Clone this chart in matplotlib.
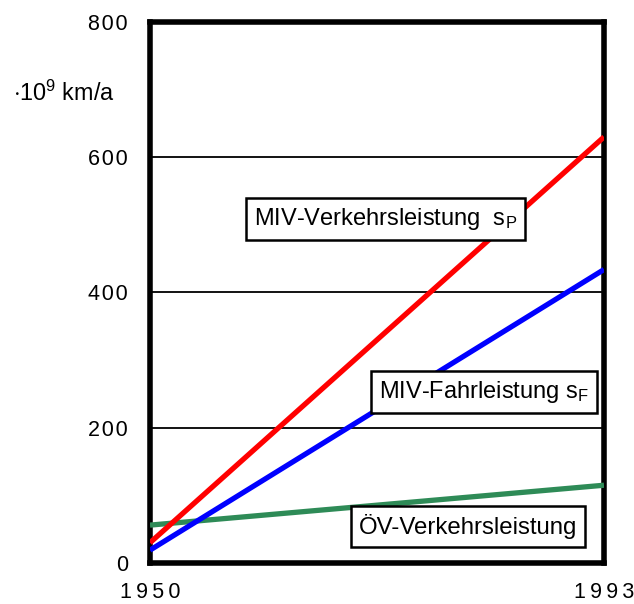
import matplotlib
matplotlib.use("Agg")
import matplotlib.pyplot as plt

plt.rcParams['font.family'] = ['Liberation Sans', 'DejaVu Sans']
plt.rcParams['mathtext.fontset'] = 'custom'
plt.rcParams['mathtext.rm'] = 'Liberation Sans'
plt.rcParams['mathtext.it'] = 'Liberation Sans'

# Jahre und Werte (10^9 km/a)
jahre = [1950, 1993]
miv_verkehrsleistung = [30, 630]
miv_fahrleistung = [19, 434]
oev_verkehrsleistung = [56, 115]
y_ticks = [0, 200, 400, 600, 800]

fig = plt.figure(figsize=(6.34, 6.04), dpi=100)
ax = fig.add_axes([0.2366, 0.0679, 0.7161, 0.8957])

for y in y_ticks[1:-1]:
    ax.axhline(y, color='black', lw=1.3, zorder=1)

ax.plot(jahre, oev_verkehrsleistung, color='#2e8b57', lw=3.8, solid_capstyle='butt', zorder=3)
ax.plot(jahre, miv_fahrleistung, color='#0000ff', lw=3.8, solid_capstyle='butt', zorder=3)
ax.plot(jahre, miv_verkehrsleistung, color='#ff0000', lw=3.8, solid_capstyle='butt', zorder=3)

sp = '\u2009'
ax.set_xlim(1950, 1993)
ax.set_ylim(0, 800)
ax.set_xticks(jahre)
ax.set_xticklabels([sp.join(str(j)) for j in jahre], fontsize=15.5)
ax.set_yticks(y_ticks)
ax.set_yticklabels(['\u200a'.join(str(v)) for v in y_ticks], fontsize=15.5)
ax.tick_params(length=0)
ax.tick_params(axis='y', pad=16)
ax.tick_params(axis='x', pad=14)
for s in ax.spines.values():
    s.set_linewidth(4)

box = dict(boxstyle='square,pad=0.33', fc='white', ec='black', lw=1.8)
ax.text(0.518, 0.636, r'MIV-Verkehrsleistung  s$_\mathrm{P}$', transform=ax.transAxes,
        fontsize=17, ha='center', va='center', bbox=box, zorder=4)
ax.text(0.736, 0.316, r'MIV-Fahrleistung s$_\mathrm{F}$', transform=ax.transAxes,
        fontsize=17, ha='center', va='center', bbox=box, zorder=4)
ax.text(0.70, 0.068, 'ÖV-Verkehrsleistung', transform=ax.transAxes,
        fontsize=17.3, ha='center', va='center', bbox=box, zorder=4)

fig.text(0.02, 0.845, r'$\cdot$10$^9$ km/a', fontsize=16.8, ha='left', va='center')

fig.savefig('out.png', dpi=100)
